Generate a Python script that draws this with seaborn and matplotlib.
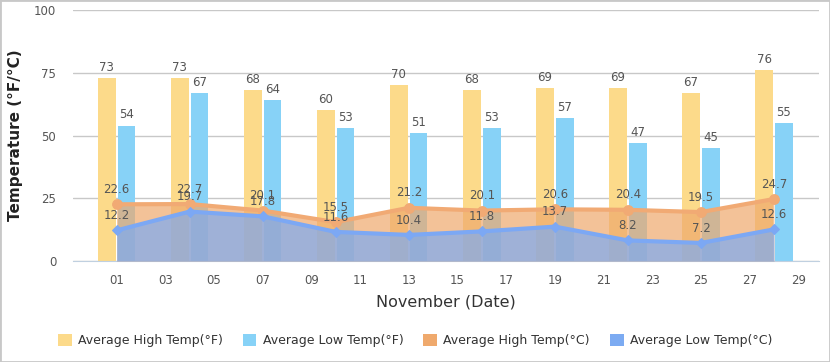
import pandas as pd
import seaborn as sns
import matplotlib.pyplot as plt
from matplotlib.patches import Patch, Rectangle

days = [1, 4, 7, 10, 13, 16, 19, 22, 25, 28]
high_f = [73, 73, 68, 60, 70, 68, 69, 69, 67, 76]
low_f = [54, 67, 64, 53, 51, 53, 57, 47, 45, 55]
high_c = [22.6, 22.7, 20.1, 15.5, 21.2, 20.1, 20.6, 20.4, 19.5, 24.7]
low_c = [12.2, 19.7, 17.8, 11.6, 10.4, 11.8, 13.7, 8.2, 7.2, 12.6]
tick_days = list(range(1, 30, 2))

series_names = ['Average High Temp(°F)', 'Average Low Temp(°F)',
                'Average High Temp(°C)', 'Average Low Temp(°C)']
colors = ['#FCDA8A', '#87D2F7', '#EFA96D', '#7CABF2']

sns.set_style('white')
plt.rcParams['font.family'] = ['DejaVu Sans']

bars = pd.DataFrame({
    'day': days * 2,
    'temp': high_f + low_f,
    'series': [series_names[0]] * len(days) + [series_names[1]] * len(days),
})

fig = plt.figure(figsize=(8.3, 3.62), dpi=100)
ax = fig.add_axes([0.088, 0.279, 0.899, 0.693])

sns.barplot(data=bars, x='day', y='temp', hue='series', native_scale=True,
            palette=colors[:2], saturation=1, width=0.54, gap=0.1,
            linewidth=0, edgecolor='none', legend=False, ax=ax, zorder=2)
for cont in ax.containers:
    ax.bar_label(cont, fmt='%d', padding=3, fontsize=8.5, color='#555555')

# Celsius areas on top of the bars
ax.fill_between(days, high_c, 0, color=colors[2], alpha=0.7, lw=0, zorder=3)
sns.lineplot(x=days, y=high_c, color='#F1AA74', lw=3, marker='o', ms=7,
             mec='#F1AA74', ax=ax, zorder=4)
ax.fill_between(days, low_c, 0, color=colors[3], alpha=0.7, lw=0, zorder=5)
sns.lineplot(x=days, y=low_c, color='#7CA8F4', lw=3, marker='D', ms=5,
             mec='#7CA8F4', ax=ax, zorder=6)

for d, v in zip(days, high_c):
    ax.annotate(f'{v:.1f}', (d, v), xytext=(0, 6), textcoords='offset points',
                ha='center', va='bottom', fontsize=8.5, color='#555555', zorder=7)
for d, v in zip(days, low_c):
    ax.annotate(f'{v:.1f}', (d, v), xytext=(0, 6), textcoords='offset points',
                ha='center', va='bottom', fontsize=8.5, color='#555555', zorder=7)

ax.set_xlim(-0.79, 29.86)
ax.set_ylim(0, 100)
ax.set_yticks([0, 25, 50, 75, 100])
ax.set_xticks(tick_days)
ax.set_xticklabels([f'{d:02d}' for d in tick_days])
ax.grid(axis='y', color='#C8C8C8', lw=1, zorder=0)
ax.set_axisbelow(True)
for side in ['top', 'right', 'left']:
    ax.spines[side].set_visible(False)
ax.spines['bottom'].set_color('#C0D0E0')
ax.tick_params(axis='x', colors='#C0D0E0', length=7, width=1, direction='out',
               labelcolor='#555555', labelsize=8.5, pad=2)
ax.tick_params(axis='y', length=0, labelcolor='#555555', labelsize=8.5, pad=12)
ax.set_xlabel('November (Date)', fontsize=11.5, color='#333333', labelpad=6)
ax.set_ylabel('Temperature (°F/°C)', fontsize=11, fontweight='bold',
              color='#222222', labelpad=8)

handles = [Patch(facecolor=c, edgecolor='none') for c in colors]
fig.legend(handles, series_names, loc='center', bbox_to_anchor=(0.5, 0.06),
           ncol=4, frameon=False, fontsize=9, handlelength=1.1,
           handleheight=1.1, handletextpad=0.5, columnspacing=1.6,
           labelcolor='#333333')

fig.patches.append(Rectangle((0, 0), 1, 1, transform=fig.transFigure,
                             fill=False, edgecolor='#C8C8C8', lw=2))

fig.savefig('out.png', dpi=100)
